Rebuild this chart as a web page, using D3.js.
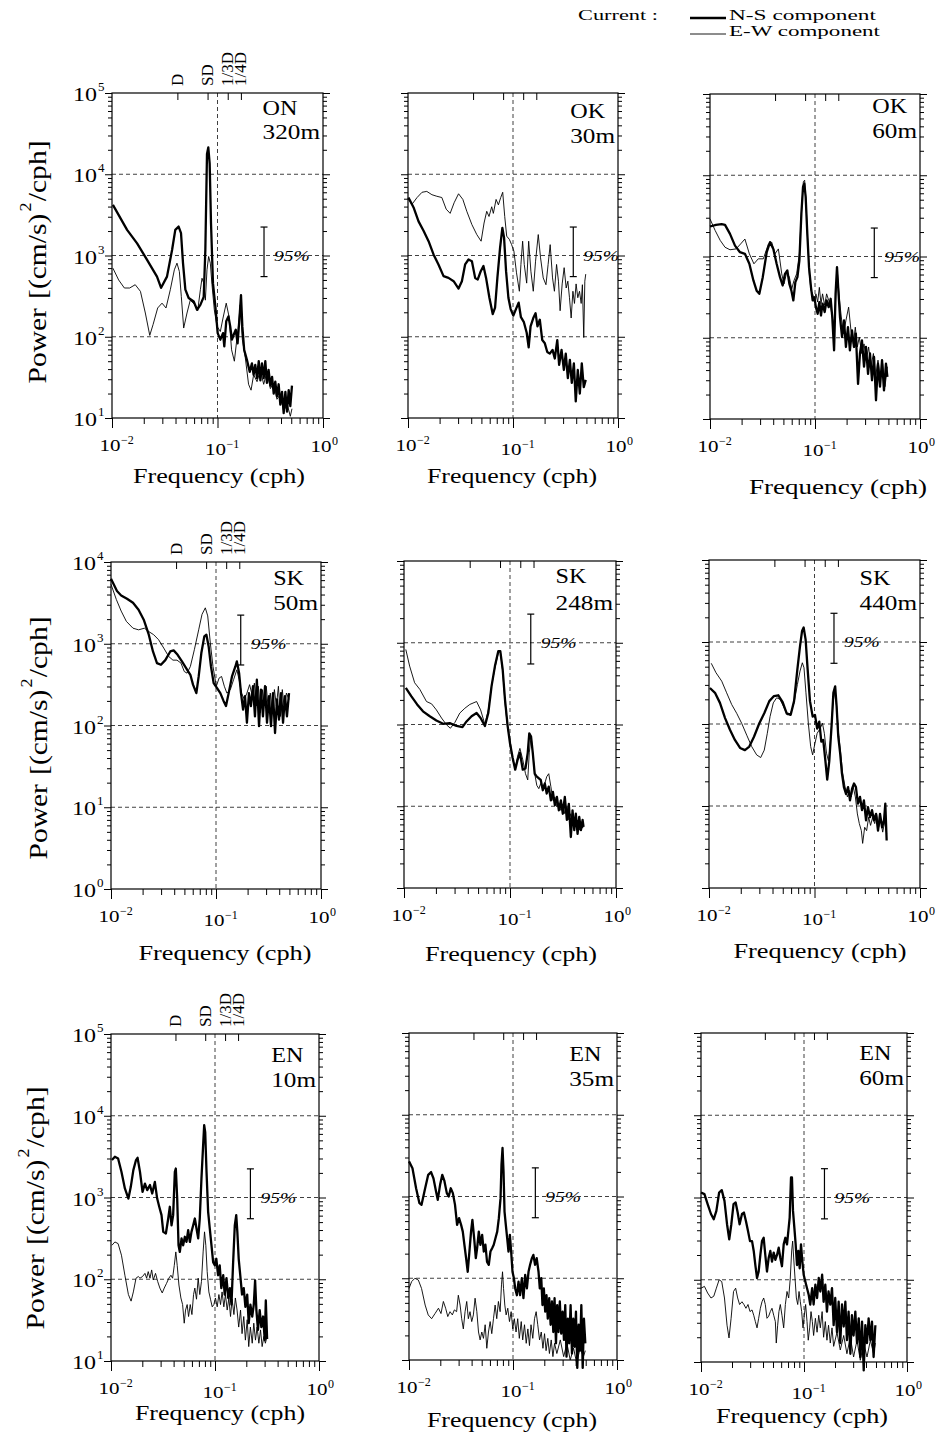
<!DOCTYPE html>
<html><head><meta charset="utf-8">
<script src="https://cdn.jsdelivr.net/npm/d3@7"></script>
<style>
html,body{margin:0;padding:0;background:#fff;}
svg{display:block;}
text{font-family:"Liberation Serif",Tinos,"Times New Roman",serif;fill:#000;}
</style></head><body>
<svg id="chart" width="947" height="1444"></svg>
<script>
// ---------------- DATA (frequency in cph, power in (cm/s)^2/cph) ----------------
const ON320_NS = [[0.0102,4200],[0.0139,2070],[0.0173,1410],[0.0215,885],[0.0267,550],[0.0292,400],[0.0332,550],[0.0371,1170],[0.0398,2070],[0.0428,2270],[0.0451,1880],[0.0471,805],[0.0496,380],[0.0533,300],[0.0595,272],[0.064,215],[0.0688,247],[0.074,310],[0.0767,1170],[0.0795,17800],[0.0818,21400],[0.0843,13500],[0.0868,2480],[0.0906,457],[0.0955,235],[0.1004,111],[0.1064,92],[0.1128,111],[0.116,76],[0.121,155],[0.127,178],[0.132,134],[0.137,92],[0.142,105],[0.149,122],[0.155,83],[0.162,178],[0.167,325],[0.172,134],[0.179,69],[0.19,52],[0.202,37],[0.212,47],[0.22,34],[0.228,45],[0.237,31],[0.246,50],[0.255,29],[0.264,47],[0.274,31],[0.284,50],[0.294,27],[0.305,39],[0.317,25],[0.329,32],[0.341,20],[0.353,28],[0.366,18.5],[0.38,26],[0.394,14.6],[0.409,21],[0.424,11.5],[0.44,21],[0.456,12],[0.473,22],[0.49,14],[0.508,25]];
const ON320_EW = [[0.0102,698],[0.01156,500],[0.0131,398],[0.0147,398],[0.0166,437],[0.0186,362],[0.0207,196],[0.0228,104],[0.0245,141],[0.0271,226],[0.0298,259],[0.0325,226],[0.0357,379],[0.039,667],[0.0413,805],[0.0435,635],[0.0454,312],[0.0478,128],[0.0514,196],[0.0552,282],[0.0603,251],[0.0649,209],[0.0688,379],[0.0713,525],[0.074,457],[0.0767,282],[0.0795,667],[0.0824,972],[0.0855,805],[0.0887,437],[0.0933,214],[0.099,134],[0.1064,116],[0.1128,170],[0.121,259],[0.1285,178],[0.136,69],[0.1445,50],[0.151,83],[0.157,122],[0.164,247],[0.172,92],[0.1835,55],[0.197,26],[0.208,22],[0.22,34],[0.237,28],[0.255,39],[0.274,26],[0.294,37],[0.317,23],[0.341,27],[0.366,17],[0.394,19.5],[0.424,12],[0.456,15],[0.49,10.5],[0.508,13]];
const OK30_NS = [[0.0101,5170],[0.0113,3900],[0.0126,2630],[0.0141,2000],[0.0157,1500],[0.0175,1030],[0.0195,776],[0.0218,557],[0.0243,530],[0.0272,483],[0.0303,392],[0.0326,483],[0.035,776],[0.0377,893],[0.0406,851],[0.0436,530],[0.0462,507],[0.0493,641],[0.0523,741],[0.0554,530],[0.0596,302],[0.0641,190],[0.0675,229],[0.071,530],[0.0753,1240],[0.0792,2190],[0.0822,1660],[0.0859,641],[0.0904,302],[0.095,219],[0.1007,182],[0.1067,219],[0.1132,263],[0.119,174],[0.127,151],[0.135,112],[0.141,74],[0.147,134],[0.156,170],[0.164,195],[0.171,134],[0.18,162],[0.19,91],[0.201,83],[0.212,65],[0.224,62],[0.238,69],[0.25,54],[0.264,91],[0.275,45],[0.29,69],[0.305,39],[0.318,62],[0.333,31],[0.348,52],[0.363,27],[0.38,47],[0.396,16],[0.414,39],[0.433,20],[0.452,47],[0.472,24],[0.493,29.5]];
const OK30_EW = [[0.0101,4900],[0.0109,4260],[0.0122,5170],[0.0136,6000],[0.0151,6150],[0.0169,5600],[0.0188,5360],[0.021,5170],[0.0231,3720],[0.0252,3300],[0.0275,4460],[0.0303,5750],[0.0333,4900],[0.0363,3500],[0.0406,2400],[0.0452,1810],[0.0497,1500],[0.053,2510],[0.0562,3500],[0.0591,3020],[0.0627,3980],[0.065,3300],[0.069,4900],[0.0726,4200],[0.0764,5170],[0.0798,6000],[0.0834,3020],[0.0871,1730],[0.0923,1580],[0.097,1360],[0.102,1130],[0.108,612],[0.115,363],[0.119,776],[0.1235,1500],[0.128,776],[0.135,457],[0.141,1500],[0.148,641],[0.156,363],[0.164,851],[0.174,1810],[0.183,936],[0.194,530],[0.206,437],[0.216,776],[0.226,1360],[0.238,530],[0.248,363],[0.26,776],[0.271,483],[0.281,209],[0.294,447],[0.307,708],[0.321,398],[0.333,483],[0.345,302],[0.358,170],[0.372,363],[0.385,257],[0.399,447],[0.414,302],[0.43,363],[0.446,257],[0.458,437],[0.472,98],[0.483,483],[0.493,590]];
const OK60_NS = [[0.0100,2340],[0.0114,2450],[0.0129,2500],[0.0139,2450],[0.0155,1900],[0.0173,1360],[0.0193,1130],[0.0215,1080],[0.0237,813],[0.0259,507],[0.0278,380],[0.0295,347],[0.0318,557],[0.0347,1130],[0.0373,1500],[0.0401,1240],[0.0431,813],[0.0464,557],[0.0492,440],[0.0518,612],[0.0545,675],[0.057,460],[0.0596,380],[0.0622,288],[0.065,483],[0.068,557],[0.071,890],[0.0742,3380],[0.0769,7200],[0.0791,7900],[0.0815,5400],[0.0845,1900],[0.0877,740],[0.0916,417],[0.095,288],[0.0986,316],[0.102,238],[0.106,197],[0.11,275],[0.114,188],[0.118,263],[0.1236,207],[0.129,288],[0.135,238],[0.141,302],[0.146,180],[0.152,70],[0.157,347],[0.162,740],[0.167,380],[0.173,180],[0.181,102],[0.189,163],[0.197,77],[0.206,135],[0.215,70],[0.225,123],[0.235,77],[0.245,112],[0.257,27],[0.268,64],[0.28,93],[0.293,44],[0.306,77],[0.32,36],[0.334,64],[0.349,30],[0.365,58],[0.381,17],[0.398,48],[0.416,25],[0.435,53],[0.454,22.5],[0.474,48],[0.489,33]];
const OK60_EW = [[0.01,2900],[0.0112,2090],[0.0125,1580],[0.0139,1300],[0.0155,1210],[0.0177,1240],[0.0196,1430],[0.0215,1640],[0.0237,1080],[0.0262,813],[0.0288,936],[0.0322,936],[0.036,1430],[0.0387,1500],[0.0416,1080],[0.0448,1240],[0.0482,612],[0.0507,460],[0.0538,641],[0.057,557],[0.06,398],[0.0631,507],[0.0669,612],[0.071,1080],[0.0742,3380],[0.0774,8300],[0.0797,8700],[0.082,4900],[0.0851,1580],[0.0883,612],[0.0916,380],[0.095,347],[0.0986,275],[0.102,347],[0.106,275],[0.11,417],[0.114,263],[0.118,347],[0.1236,250],[0.129,347],[0.135,288],[0.141,238],[0.147,171],[0.153,135],[0.158,347],[0.163,675],[0.17,316],[0.178,180],[0.187,112],[0.197,163],[0.209,238],[0.22,123],[0.232,84],[0.242,135],[0.253,77],[0.264,102],[0.278,64],[0.293,84],[0.308,53],[0.324,77],[0.341,44],[0.36,64],[0.378,33],[0.398,53],[0.419,30],[0.441,48],[0.464,25],[0.489,44]];
const SK50_NS = [[0.0100,6250],[0.0114,4420],[0.0125,3900],[0.0142,3550],[0.0162,3170],[0.0183,2610],[0.0205,1970],[0.0229,1290],[0.0251,805],[0.0274,580],[0.0299,553],[0.0329,630],[0.0367,805],[0.0395,830],[0.0431,733],[0.0474,608],[0.0521,500],[0.057,417],[0.0604,316],[0.065,249],[0.0684,398],[0.0725,769],[0.0774,1230],[0.081,1290],[0.0851,927],[0.0896,527],[0.095,330],[0.102,288],[0.11,249],[0.118,200],[0.1245,173],[0.132,249],[0.142,398],[0.153,527],[0.158,608],[0.166,437],[0.173,249],[0.181,157],[0.189,229],[0.197,108],[0.206,249],[0.215,173],[0.225,302],[0.235,129],[0.245,363],[0.257,98],[0.268,275],[0.28,129],[0.293,302],[0.306,108],[0.32,229],[0.334,98],[0.349,249],[0.365,81],[0.381,209],[0.398,118],[0.416,249],[0.435,108],[0.454,229],[0.474,129],[0.496,249]];
const SK50_EW = [[0.01,5330],[0.01125,3470],[0.0125,2510],[0.014,1880],[0.0162,1550],[0.0183,1480],[0.0208,1550],[0.0229,1410],[0.0255,1290],[0.0284,1120],[0.0318,885],[0.0354,700],[0.0389,630],[0.0425,630],[0.0464,580],[0.0499,457],[0.053,437],[0.057,527],[0.0622,845],[0.0684,1480],[0.0736,2290],[0.0791,2750],[0.0834,2190],[0.0883,1020],[0.0936,527],[0.1007,302],[0.107,380],[0.113,398],[0.12,302],[0.127,249],[0.137,275],[0.147,363],[0.158,480],[0.166,363],[0.175,249],[0.186,209],[0.197,249],[0.209,316],[0.222,229],[0.232,330],[0.242,173],[0.253,302],[0.264,143],[0.276,275],[0.288,173],[0.301,302],[0.315,157],[0.329,249],[0.344,143],[0.36,275],[0.376,173],[0.393,302],[0.41,129],[0.428,275],[0.448,157],[0.468,249],[0.496,209]];
const SK248_NS = [[0.0104,281],[0.0117,222],[0.0133,176],[0.0151,145],[0.0175,126],[0.0202,112],[0.0234,102],[0.027,104],[0.0313,96],[0.0356,93],[0.0389,109],[0.0434,126],[0.0484,138],[0.0528,120],[0.058,96],[0.0624,138],[0.067,295],[0.0721,518],[0.0776,790],[0.081,790],[0.0853,471],[0.0897,202],[0.0951,95],[0.1,59],[0.106,39],[0.112,28],[0.118,37],[0.124,45],[0.132,28],[0.14,29],[0.147,45],[0.152,78],[0.158,71],[0.164,45],[0.171,25],[0.179,23],[0.187,22],[0.195,21],[0.204,15.7],[0.213,19],[0.222,14.3],[0.232,17.4],[0.243,11.8],[0.254,15],[0.265,10.3],[0.277,13],[0.289,8.9],[0.302,11.8],[0.315,8.1],[0.329,13],[0.344,6.8],[0.359,10.7],[0.375,4.2],[0.389,8.9],[0.404,5.1],[0.418,8.1],[0.434,4.6],[0.45,7.4],[0.467,5.1],[0.484,6.8],[0.494,5.6]];
const SK248_EW = [[0.0104,828],[0.0113,518],[0.0126,324],[0.0141,269],[0.0163,191],[0.0182,179],[0.0202,151],[0.0226,120],[0.0252,99],[0.0274,90],[0.0302,106],[0.0336,138],[0.0375,158],[0.0418,176],[0.0484,191],[0.0528,151],[0.058,100],[0.0624,151],[0.067,295],[0.0721,494],[0.0776,755],[0.081,790],[0.0853,450],[0.0897,184],[0.0951,90],[0.1,65],[0.106,37],[0.112,29],[0.118,41],[0.124,51],[0.132,37],[0.14,25],[0.147,21],[0.152,45],[0.158,71],[0.164,45],[0.171,25],[0.179,18],[0.187,16.4],[0.195,19],[0.204,17.4],[0.213,19],[0.222,23],[0.232,25],[0.243,17.4],[0.254,11.8],[0.265,13],[0.277,9.8],[0.289,11],[0.302,8.9],[0.315,10.7],[0.329,8.1],[0.344,9.8],[0.359,6.8],[0.375,8.1],[0.389,6.1],[0.404,7.4],[0.418,5.6],[0.434,6.8],[0.45,5.1],[0.467,6.5],[0.484,5.4],[0.494,5.9]];
const SK440_NS = [[0.0102,275],[0.0114,240],[0.0127,181],[0.0142,118],[0.0158,85],[0.0176,64],[0.0197,51],[0.0219,48],[0.0241,53],[0.0267,70],[0.03,102],[0.0334,135],[0.0373,190],[0.0413,219],[0.0454,224],[0.0499,185],[0.0545,135],[0.0594,129],[0.064,190],[0.0688,464],[0.0729,890],[0.0762,1360],[0.0789,1500],[0.0824,1070],[0.0861,464],[0.0906,190],[0.0961,123],[0.101,129],[0.106,88],[0.111,107],[0.116,61],[0.121,64],[0.127,35],[0.132,21],[0.138,35],[0.145,93],[0.151,240],[0.157,288],[0.162,165],[0.168,70],[0.175,44],[0.182,25],[0.19,17],[0.199,14],[0.208,17],[0.217,11.7],[0.227,16.3],[0.237,18.8],[0.247,17],[0.258,10.7],[0.27,12.9],[0.282,8.9],[0.294,11.7],[0.308,6.7],[0.321,9.7],[0.336,7.3],[0.351,8.9],[0.366,6.7],[0.383,8],[0.4,5],[0.418,8],[0.437,5.5],[0.456,6.7],[0.469,10.7],[0.483,3.8]];
const SK440_EW = [[0.0105,550],[0.01165,422],[0.0132,333],[0.0147,240],[0.0164,173],[0.0183,135],[0.0204,102],[0.0228,73],[0.0254,53],[0.0283,42],[0.0309,39],[0.0334,48],[0.0357,77],[0.0379,123],[0.0407,181],[0.0438,209],[0.0471,200],[0.0506,165],[0.0552,129],[0.0594,135],[0.064,181],[0.0688,302],[0.0729,442],[0.0767,558],[0.0795,485],[0.083,240],[0.0874,102],[0.092,53],[0.096,42],[0.101,58],[0.106,77],[0.113,88],[0.119,102],[0.124,77],[0.13,44],[0.136,35],[0.142,64],[0.149,165],[0.155,257],[0.162,165],[0.169,77],[0.177,44],[0.185,25],[0.195,17],[0.205,12.9],[0.214,15.5],[0.223,12.9],[0.233,17],[0.244,12.9],[0.255,8],[0.266,6.1],[0.278,5],[0.286,3.5],[0.299,5.5],[0.312,5],[0.326,7.3],[0.34,5.8],[0.356,7.3],[0.372,6.1],[0.388,8],[0.406,5.5],[0.424,6.7],[0.443,4.8],[0.462,6.4],[0.483,4.6]];
const EN10_NS = [[0.0102,2870],[0.0109,3150],[0.0117,3000],[0.0126,2060],[0.0136,1290],[0.0147,970],[0.0155,1350],[0.0164,2160],[0.0174,2870],[0.018,3060],[0.019,2060],[0.0201,1170],[0.0212,1480],[0.0223,1230],[0.0237,1420],[0.0249,1120],[0.0264,1550],[0.0278,970],[0.0291,770],[0.0306,608],[0.0318,380],[0.0337,363],[0.0355,553],[0.0368,770],[0.0382,457],[0.0396,608],[0.0411,2060],[0.042,2260],[0.0433,970],[0.0446,260],[0.0459,216],[0.0477,316],[0.0494,260],[0.0513,331],[0.0532,286],[0.0552,398],[0.0573,286],[0.0594,380],[0.0617,457],[0.064,553],[0.0664,417],[0.0689,316],[0.0714,553],[0.0741,1710],[0.0769,4370],[0.0787,7690],[0.0805,6300],[0.0829,2060],[0.0859,668],[0.0891,417],[0.0925,260],[0.096,162],[0.0995,148],[0.103,178],[0.107,112],[0.111,148],[0.115,78],[0.12,112],[0.124,65],[0.129,103],[0.134,59],[0.139,78],[0.144,49],[0.149,148],[0.155,457],[0.16,608],[0.164,380],[0.169,178],[0.176,103],[0.182,65],[0.189,78],[0.196,46],[0.204,65],[0.211,29],[0.219,49],[0.228,35],[0.236,49],[0.243,97],[0.25,42],[0.259,24],[0.269,42],[0.279,26],[0.29,35],[0.301,18],[0.308,55],[0.317,18.6]];
const EN10_EW = [[0.0102,260],[0.0109,286],[0.0117,273],[0.0126,197],[0.0136,112],[0.0147,65],[0.0156,54],[0.0164,70],[0.0174,103],[0.0183,108],[0.019,103],[0.0201,108],[0.0212,118],[0.022,103],[0.0228,124],[0.0237,103],[0.0246,130],[0.0255,98],[0.0268,118],[0.0281,94],[0.0295,78],[0.0311,68],[0.0325,78],[0.0342,89],[0.036,103],[0.0377,112],[0.0391,103],[0.0406,148],[0.042,216],[0.0433,148],[0.045,85],[0.047,59],[0.0488,49],[0.0506,29],[0.0521,42],[0.054,49],[0.0557,35],[0.0578,49],[0.06,37],[0.0622,65],[0.064,78],[0.0664,57],[0.0689,103],[0.0714,65],[0.0741,94],[0.0769,216],[0.0793,380],[0.0816,260],[0.0841,124],[0.0873,70],[0.0905,57],[0.094,46],[0.0975,49],[0.101,59],[0.105,46],[0.109,65],[0.113,49],[0.117,70],[0.1216,46],[0.126,65],[0.131,42],[0.136,59],[0.141,35],[0.146,57],[0.152,37],[0.157,59],[0.163,42],[0.169,26],[0.176,42],[0.182,21.6],[0.189,35],[0.196,18],[0.204,32],[0.211,15],[0.219,26],[0.228,16.5],[0.236,29],[0.245,18],[0.254,26],[0.264,16.5],[0.274,24],[0.284,15],[0.295,20],[0.305,16.5],[0.317,20]];
const EN35_NS = [[0.01,2690],[0.0108,2220],[0.0117,1260],[0.0126,828],[0.0132,790],[0.0143,1260],[0.0153,1840],[0.0163,1990],[0.0172,1660],[0.0182,1150],[0.0189,910],[0.0199,1390],[0.0209,1840],[0.0219,1550],[0.0231,1100],[0.0241,1000],[0.0252,1260],[0.0264,1100],[0.0277,790],[0.029,450],[0.0303,543],[0.0317,450],[0.0329,372],[0.0341,257],[0.0354,176],[0.0367,120],[0.0381,212],[0.0395,372],[0.0407,518],[0.0423,309],[0.0439,176],[0.0452,233],[0.0469,372],[0.0486,257],[0.0505,339],[0.0524,212],[0.0543,257],[0.0563,158],[0.0585,146],[0.0607,212],[0.063,233],[0.0653,257],[0.0678,309],[0.0705,372],[0.0731,543],[0.0759,955],[0.0775,2440],[0.0793,3920],[0.0811,2020],[0.0829,655],[0.0853,450],[0.0879,309],[0.0905,212],[0.0933,339],[0.096,212],[0.0989,120],[0.102,100],[0.105,75],[0.109,62],[0.113,91],[0.117,62],[0.1216,100],[0.126,57],[0.131,110],[0.136,75],[0.141,120],[0.146,146],[0.152,176],[0.157,193],[0.163,146],[0.169,176],[0.176,120],[0.181,75],[0.187,100],[0.192,47],[0.198,75],[0.204,39],[0.21,62],[0.216,32],[0.223,57],[0.23,27],[0.237,52],[0.244,22],[0.251,57],[0.259,16],[0.266,47],[0.274,22],[0.282,52],[0.291,21],[0.3,39],[0.309,17.6],[0.318,47],[0.327,11],[0.337,32],[0.347,16],[0.358,47],[0.369,12],[0.38,32],[0.391,14.5],[0.403,39],[0.415,8],[0.428,27],[0.441,13],[0.454,47],[0.468,8],[0.481,32],[0.496,16]];
const EN35_EW = [[0.01,75],[0.0106,91],[0.0114,100],[0.0123,95],[0.0132,75],[0.0143,47],[0.0153,35.6],[0.0165,32],[0.0178,37],[0.0192,43],[0.0203,37],[0.0214,52],[0.0225,43],[0.0236,34],[0.0248,39],[0.0261,35.6],[0.0273,41],[0.0287,39],[0.0298,62],[0.031,47],[0.0321,32],[0.0333,24],[0.0346,39],[0.0359,52],[0.0372,32],[0.0386,39],[0.0401,29.5],[0.0416,35.6],[0.0432,57],[0.0449,39],[0.0466,22],[0.0483,17.6],[0.0501,22],[0.052,18.4],[0.054,27],[0.056,13.9],[0.0581,22],[0.0603,29.5],[0.0625,21],[0.0649,32],[0.0673,47],[0.0698,32],[0.0724,52],[0.0752,39],[0.0775,83],[0.0793,120],[0.0811,75],[0.0834,47],[0.0859,35.6],[0.0891,43],[0.0925,29.5],[0.096,39],[0.0995,24],[0.103,32],[0.107,22],[0.111,32],[0.115,18.4],[0.12,29.5],[0.124,17.6],[0.129,27],[0.134,16],[0.139,24],[0.144,15],[0.149,27],[0.155,18.4],[0.161,32],[0.167,39],[0.173,27],[0.18,17.6],[0.187,22],[0.194,13.9],[0.201,21],[0.208,13],[0.216,18.4],[0.224,12],[0.233,17.6],[0.242,11],[0.251,16],[0.264,12],[0.285,17.6],[0.307,11],[0.33,16],[0.355,10],[0.382,14],[0.41,9.1],[0.442,14],[0.475,11],[0.496,13]];
const EN60_NS = [[0.01,1150],[0.0108,1100],[0.0116,830],[0.0125,630],[0.0133,545],[0.0141,687],[0.015,1150],[0.0159,1230],[0.0169,910],[0.0179,473],[0.0188,310],[0.0197,473],[0.0207,830],[0.0217,870],[0.0227,656],[0.0237,473],[0.025,630],[0.0261,656],[0.0273,519],[0.0286,392],[0.0299,295],[0.0313,295],[0.0325,224],[0.0337,151],[0.035,105],[0.0363,126],[0.0377,200],[0.0391,295],[0.0406,324],[0.0421,200],[0.0437,126],[0.0454,184],[0.0471,224],[0.0489,166],[0.0508,214],[0.0527,175],[0.0547,200],[0.0568,245],[0.0589,184],[0.0611,146],[0.0635,269],[0.0659,324],[0.0684,269],[0.0705,392],[0.0726,570],[0.0748,1750],[0.0764,1750],[0.0782,687],[0.0806,430],[0.083,269],[0.0855,151],[0.0881,224],[0.0908,138],[0.0935,269],[0.0964,166],[0.0993,115],[0.103,95],[0.107,79],[0.111,66],[0.115,50],[0.12,79],[0.124,50],[0.129,87],[0.134,60],[0.139,105],[0.144,72],[0.15,115],[0.155,54],[0.161,87],[0.167,41],[0.173,72],[0.18,50],[0.187,79],[0.194,28],[0.201,60],[0.209,23],[0.217,54],[0.225,17],[0.234,50],[0.243,27],[0.252,54],[0.261,18.4],[0.271,41],[0.282,12.6],[0.292,37],[0.303,21],[0.315,41],[0.327,17],[0.34,34],[0.352,11.5],[0.366,31],[0.38,7.9],[0.394,28],[0.409,17],[0.424,34],[0.441,18.4],[0.457,31],[0.474,11.5],[0.493,28]];
const EN60_EW = [[0.01,79],[0.0108,83],[0.0116,69],[0.0125,60],[0.0133,63],[0.0141,79],[0.015,100],[0.0159,95],[0.0169,60],[0.0179,28],[0.0187,19.6],[0.0196,34],[0.0207,72],[0.0217,79],[0.0227,60],[0.0237,50],[0.025,54],[0.0261,50],[0.0273,45],[0.0286,50],[0.0299,41],[0.0313,43],[0.0325,37],[0.0337,31],[0.035,26],[0.0363,34],[0.0377,45],[0.0391,54],[0.0406,60],[0.0421,50],[0.0437,34],[0.0454,36],[0.0471,41],[0.0489,45],[0.0508,37],[0.0527,31],[0.0538,17],[0.0555,28],[0.0571,41],[0.0589,50],[0.0611,37],[0.0635,26],[0.0659,50],[0.0684,72],[0.071,60],[0.0736,105],[0.0759,224],[0.0776,295],[0.0794,184],[0.0818,105],[0.0843,60],[0.0869,50],[0.0895,72],[0.0921,54],[0.0949,41],[0.0978,26],[0.1007,37],[0.1037,50],[0.107,31],[0.11,18.4],[0.1135,26],[0.117,41],[0.1205,31],[0.124,21],[0.129,34],[0.134,23],[0.139,37],[0.144,26],[0.15,41],[0.155,20],[0.161,31],[0.167,18.4],[0.173,28],[0.18,17],[0.187,26],[0.194,15.5],[0.209,23],[0.225,14],[0.243,21],[0.261,12.6],[0.282,20],[0.303,11.5],[0.327,18.4],[0.352,10.5],[0.38,17],[0.409,11.5],[0.441,18.4],[0.474,12.6],[0.493,17]];

const sites  = ["ON","OK","OK","SK","SK","SK","EN","EN","EN"];
const depths = ["320m","30m","60m","50m","248m","440m","10m","35m","60m"];
const nsSeries = [ON320_NS, OK30_NS, OK60_NS, SK50_NS, SK248_NS, SK440_NS, EN10_NS, EN35_NS, EN60_NS];
const ewSeries = [ON320_EW, OK30_EW, OK60_EW, SK50_EW, SK248_EW, SK440_EW, EN10_EW, EN35_EW, EN60_EW];
const yDomains = [[10,1e5],[10,1e5],[10,1e5],[1,1e4],[1,1e4],[1,1e4],[10,1e5],[10,1e5],[10,1e5]];
const xDomain = [0.01, 1];
const tidalFreqs  = [1/24, 1/12.42, 1/8, 1/6];
const tidalLabels = ["D","SD","1/3D","1/4D"];
const ciCenter = 1000, ciLow = 550, ciHigh = 2240;
const ciLabel = "95%";
const xTitle = "Frequency (cph)";
const legendTitle = "Current :";
const legendNames = ["N-S component","E-W component"];

// ---------------- LAYOUT ----------------
const layout = [
  {x0:112,x1:323,y0:93, y1:418, tx:219,ty:483, tw:172, ciF:0.276, ld:[22,46]},
  {x0:408,x1:618,y0:93, y1:418, tx:512,ty:483, tw:170, ciF:0.375, ld:[25,50]},
  {x0:710,x1:920,y0:94, y1:419, tx:838,ty:494, tw:178, ciF:0.367, ld:[19,44]},
  {x0:111,x1:321,y0:562,y1:889, tx:225,ty:960, tw:173, ciF:0.172, ld:[23,48]},
  {x0:404,x1:616,y0:561,y1:888, tx:511,ty:961, tw:172, ciF:0.157, ld:[22,49]},
  {x0:709,x1:920,y0:560,y1:888, tx:820,ty:958, tw:173, ciF:0.153, ld:[25,50]},
  {x0:111,x1:319,y0:1034,y1:1361,tx:220,ty:1420,tw:170, ciF:0.219, ld:[28,53]},
  {x0:409,x1:617,y0:1033,y1:1360,tx:512,ty:1427,tw:170, ciF:0.164, ld:[28,53]},
  {x0:701,x1:907,y0:1033,y1:1362,tx:802,ty:1423,tw:172, ciF:0.158, ld:[27,52]}
];
const yTitlePos = [{x:46,cy:262},{x:47,cy:738},{x:44,cy:1208}];

const svg = d3.select("#chart");
function fit(sel, w){ sel.attr("textLength", w).attr("lengthAdjust","spacingAndGlyphs"); return sel; }
function stretch(sel, f){ let out=0; sel.each(function(){ const w=this.getComputedTextLength(); out=w*f; d3.select(this).attr("textLength",(w*f).toFixed(1)).attr("lengthAdjust","spacingAndGlyphs"); }); return out; }
const isDec = v => Math.abs(Math.log10(v) - Math.round(Math.log10(v))) < 1e-9;

// legend
svg.append("text").attr("x",578).attr("y",20).attr("font-size",14.5).text(legendTitle).call(fit,80);
legendNames.forEach((name,i)=>{
  const ly = [18,34][i];
  svg.append("line").attr("x1",690).attr("x2",726).attr("y1",ly).attr("y2",ly)
     .attr("stroke","#000").attr("stroke-width", i===0?2.3:0.9);
  svg.append("text").attr("x",729).attr("y",ly+2).attr("font-size",14).text(name).call(fit, i===0?147:151);
});

// y titles
yTitlePos.forEach(p=>{
  const t = svg.append("text").attr("transform",`translate(${p.x},${p.cy}) rotate(-90)`)
     .attr("text-anchor","middle").attr("font-size",26);
  t.append("tspan").text("Power");
  t.append("tspan").attr("dx",8).text("[(cm/s)");
  t.append("tspan").attr("font-size",16).attr("dy",-15).attr("dx",2).text("2");
  t.append("tspan").attr("dy",15).attr("dx",1).text("/cph]");
  fit(t, 243);
});

layout.forEach((L,i)=>{
  const x = d3.scaleLog().domain(xDomain).range([L.x0, L.x1]);
  const y = d3.scaleLog().domain(yDomains[i]).range([L.y1, L.y0]);
  const g = svg.append("g");
  const xt = x.ticks(), yt = y.ticks();
  const xMaj = xt.filter(isDec), xMin = xt.filter(v=>!isDec(v));
  const yMaj = yt.filter(isDec), yMin = yt.filter(v=>!isDec(v));
  const yd = yDomains[i];

  // grid lines
  g.selectAll(".hg").data(yMaj.filter(v=>v>yd[0]*1.001 && v<yd[1]*0.999)).join("line")
    .attr("x1",L.x0).attr("x2",L.x1).attr("y1",d=>y(d)).attr("y2",d=>y(d))
    .attr("stroke","#000").attr("stroke-width",0.75).attr("stroke-dasharray","4,3");
  g.append("line").attr("x1",x(0.1)).attr("x2",x(0.1)).attr("y1",L.y0).attr("y2",L.y1)
    .attr("stroke","#000").attr("stroke-width",0.75).attr("stroke-dasharray","4,3");

  // spectra
  const line = d3.line().x(d=>x(d[0])).y(d=>y(d[1]));
  g.append("path").attr("d",line(ewSeries[i])).attr("fill","none").attr("stroke","#000")
    .attr("stroke-width",0.9).attr("stroke-linejoin","round");
  g.append("path").attr("d",line(nsSeries[i])).attr("fill","none").attr("stroke","#000")
    .attr("stroke-width",2.3).attr("stroke-linejoin","round");

  // frame
  g.append("rect").attr("x",L.x0).attr("y",L.y0).attr("width",L.x1-L.x0).attr("height",L.y1-L.y0)
    .attr("fill","none").attr("stroke","#000").attr("stroke-width",1.2);

  const ax = (gen, vals, size, tr) => g.append("g").attr("transform",tr)
     .call(gen.tickValues(vals).tickSize(size).tickSizeOuter(0).tickFormat(()=>""))
     .call(s=>{ s.select(".domain").remove(); s.selectAll("text").remove();
                s.selectAll("line").attr("stroke","#000").attr("stroke-width",1); });
  ax(d3.axisBottom(x), xMin, 6, `translate(0,${L.y1})`);
  ax(d3.axisBottom(x), xMaj, 10, `translate(0,${L.y1})`);
  ax(d3.axisLeft(y), yMin, 4, `translate(${L.x0},0)`);
  ax(d3.axisLeft(y), yMaj, 7, `translate(${L.x0},0)`);
  ax(d3.axisRight(y), yMin, 4, `translate(${L.x1},0)`);
  ax(d3.axisRight(y), yMaj, 7, `translate(${L.x1},0)`);
  ax(d3.axisTop(x), tidalFreqs, -7, `translate(0,${L.y0})`);

  // x tick labels
  xMaj.forEach(v=>{
    const e = Math.round(Math.log10(v));
    const dy = e===-1 ? 37 : (e===0 ? 34 : 33);
    g.append("text").attr("x",x(v)-2).attr("y",L.y1+dy).attr("text-anchor","middle")
      .attr("font-size",17).text("10").call(fit,21);
    g.append("text").attr("x",x(v)+9).attr("y",L.y1+dy-7).attr("font-size",12)
      .text(e<0 ? "\u2212"+(-e) : String(e));
  });

  // first column: y tick labels + tidal labels
  if (i % 3 === 0) {
    yMaj.forEach(v=>{
      const e = Math.round(Math.log10(v));
      g.append("text").attr("x",L.x0-15).attr("y",y(v)+8).attr("text-anchor","end")
        .attr("font-size",18).text("10").call(fit,24);
      g.append("text").attr("x",L.x0-14).attr("y",y(v)-2).attr("font-size",13).text(String(e));
    });
    tidalFreqs.forEach((f,k)=>{
      g.append("text").attr("transform",`translate(${x(f)+5.5},${L.y0-7}) rotate(-90)`)
        .attr("font-size",17).text(tidalLabels[k]);
    });
  }

  // x title
  g.append("text").attr("x",L.tx).attr("y",L.ty).attr("text-anchor","middle")
    .attr("font-size",22).text(xTitle).call(fit,L.tw);

  // site / depth labels
  const dEl = g.append("text").attr("x",L.x1-3).attr("y",L.y0+L.ld[1]).attr("text-anchor","end")
    .attr("font-size",21).text(depths[i]);
  const dw = stretch(dEl, 1.2);
  const sEl = g.append("text").attr("x",L.x1-3-dw).attr("y",L.y0+L.ld[0]).attr("font-size",21).text(sites[i]);
  stretch(sEl, 1.15);

  // 95% confidence bar
  const cx = x(L.ciF);
  g.append("line").attr("x1",cx).attr("x2",cx).attr("y1",y(ciHigh)).attr("y2",y(ciLow))
    .attr("stroke","#000").attr("stroke-width",1.2);
  [ciHigh, ciLow].forEach(v=>{
    g.append("line").attr("x1",cx-3.5).attr("x2",cx+3.5).attr("y1",y(v)).attr("y2",y(v))
      .attr("stroke","#000").attr("stroke-width",1.2);
  });
  const ct = g.append("text").attr("x",cx+10).attr("y",y(ciCenter)+5).attr("font-size",15)
    .attr("font-style","italic").text(ciLabel);
  stretch(ct, 1.3);
});
</script>
</body></html>
